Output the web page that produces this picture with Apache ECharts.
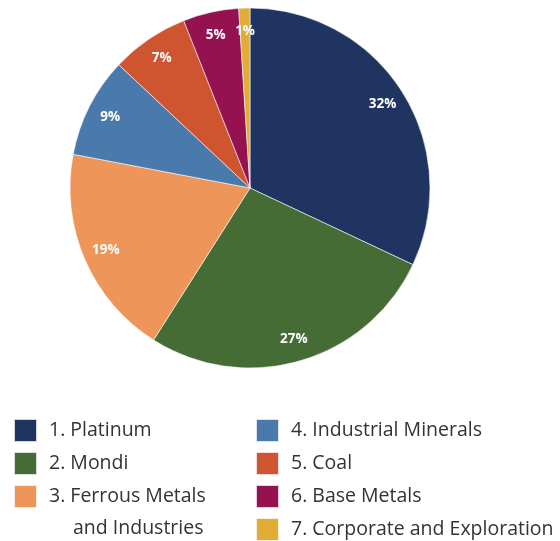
<!DOCTYPE html>
<html>
<head>
<meta charset="utf-8">
<script src="https://cdn.jsdelivr.net/npm/echarts@6/dist/echarts.min.js"></script>
<style>
  html, body { margin: 0; padding: 0; background: #fff; }
  #chart { width: 560px; height: 541px; }
</style>
</head>
<body>
<div id="chart"></div>
<script>
// Segment names, shares (%) and colours
const segments = ['1. Platinum', '2. Mondi', '3. Ferrous Metals', '4. Industrial Minerals', '5. Coal', '6. Base Metals', '7. Corporate and Exploration'];
const shares = [32, 27, 19, 9, 7, 5, 1];
const colors = ['#1F3461', '#466C35', '#EE955A', '#4A7AAB', '#CF5430', '#93124F', '#E2AD36'];
const extraLine = 'and Industries';

const chart = echarts.init(document.getElementById('chart'), null, { renderer: 'canvas' });

const pieData = segments.map((name, i) => ({ name: name, value: shares[i], itemStyle: { color: colors[i] } }));
const labelData = segments.map((name, i) => ({ name: name, value: shares[i] }));

const legendText = {
  fontFamily: 'Open Sans',
  fontSize: 19.5,
  lineHeight: 23,
  color: '#333333',
  padding: [0, 0, 0, 7]
};

const legendBase = {
  orient: 'vertical',
  top: 418,
  height: 140,
  padding: 0,
  itemWidth: 23, itemHeight: 23, itemGap: 8,
  icon: 'rect',
  selectedMode: false,
  textStyle: legendText
};

chart.setOption({
  animation: false,
  backgroundColor: '#ffffff',
  legend: [
    Object.assign({ data: segments.slice(0, 3), left: 13 }, legendBase),
    Object.assign({ data: segments.slice(3), left: 255 }, legendBase)
  ],
  graphic: [{
    type: 'text',
    left: 73, top: 518,
    style: { text: extraLine, fontFamily: 'Open Sans', fontSize: 19.5, fill: '#333333' }
  }],
  series: [
    {
      type: 'pie',
      center: [250, 188],
      radius: [0, 180],
      startAngle: 90,
      clockwise: true,
      silent: true,
      label: { show: false },
      labelLine: { show: false },
      itemStyle: { borderColor: 'rgba(255,255,255,0.8)', borderWidth: 0.7 },
      data: pieData
    },
    {
      // transparent ring used only to place the percentage labels
      type: 'pie',
      center: [250, 188],
      radius: [128, 180],
      startAngle: 90,
      clockwise: true,
      silent: true,
      itemStyle: { color: 'rgba(0,0,0,0)', borderWidth: 0 },
      label: {
        show: true,
        position: 'inside',
        formatter: '{c}%',
        color: '#ffffff',
        fontFamily: 'Open Sans',
        fontWeight: 'bold',
        fontSize: 13.5
      },
      labelLine: { show: false },
      data: labelData
    }
  ]
});
</script>
</body>
</html>
